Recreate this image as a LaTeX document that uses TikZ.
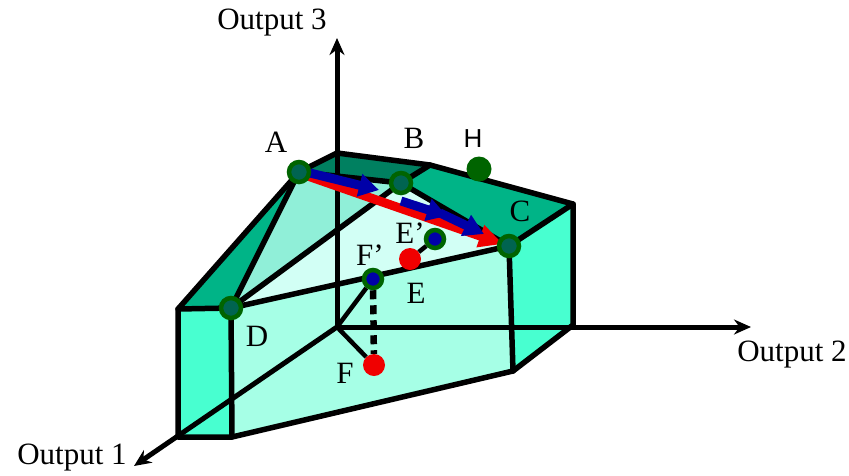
\documentclass[tikz,border=0pt]{standalone}
\usepackage{fontspec}
\setmainfont{Liberation Serif}
\newfontfamily\hsans{Liberation Sans}
\usetikzlibrary{arrows.meta}
\definecolor{sideC}{HTML}{48FFD0}
\definecolor{frontC}{HTML}{A6FFE6}
\definecolor{topC}{HTML}{00B487}
\definecolor{backC}{HTML}{008060}
\definecolor{midC}{HTML}{90EFD8}
\definecolor{paleC}{HTML}{D2FFF5}
\definecolor{dgreen}{HTML}{006400}
\definecolor{vtxC}{HTML}{006450}
\definecolor{bl}{HTML}{0000A8}
\definecolor{rd}{HTML}{F00000}
\tikzset{
  x=1pt,y=-1pt,
  edge/.style={line width=5.5pt,black,line cap=round,line join=round},
  thinedge/.style={line width=4.5pt,black},
  axis/.style={line width=5pt,black,-{Stealth[length=17pt,width=15pt]}},
  lab/.style={font=\fontsize{31}{32}\selectfont,text=black,inner sep=0pt},
  vtx/.style={circle,draw=dgreen,fill=vtxC,line width=4.5pt,minimum size=20pt,inner sep=0pt},
  mid/.style={circle,draw=dgreen,fill=bl,line width=4.5pt,minimum size=18pt,inner sep=0pt},
  redpt/.style={circle,fill=rd,minimum size=22pt,inner sep=0pt},
  hpt/.style={circle,fill=dgreen,minimum size=25pt,inner sep=0pt},
  redarr/.style={rd,line width=9pt,-{Stealth[length=24pt,width=22pt,inset=0pt]}},
  bluearr/.style={bl,line width=9pt,-{Stealth[length=20pt,width=22pt,inset=0pt]}}
}
\begin{document}
\begin{tikzpicture}
\useasboundingbox (0,0) rectangle (849,475);
\coordinate (O) at (337,327);
\coordinate (Z) at (337,38);
\coordinate (Y) at (751,327);
\coordinate (X) at (134,466);
\coordinate (P) at (337,153);
\coordinate (Q) at (430,165);
\coordinate (R) at (573,204);
\coordinate (S) at (573,325);
\coordinate (T) at (513,371);
\coordinate (U) at (232,437);
\coordinate (V) at (178,437);
\coordinate (W) at (178,309);
\coordinate (Aa) at (299,172);
\coordinate (Bb) at (401,183);
\coordinate (Cc) at (509,246);
\coordinate (Dd) at (231,308);
% faces
\fill[sideC] (W) -- (Dd) -- (U) -- (V) -- cycle;
\fill[frontC] (Dd) -- (Cc) -- (T) -- (U) -- cycle;
\fill[sideC] (Cc) -- (R) -- (S) -- (T) -- cycle;
\fill[topC] (W) -- (Aa) -- (Dd) -- cycle;
\fill[backC] (Aa) -- (P) -- (Q) -- (Bb) -- cycle;
\fill[topC] (Bb) -- (Q) -- (R) -- (Cc) -- cycle;
\fill[paleC] (Dd) -- (Bb) -- (Cc) -- cycle;
\fill[midC] (Aa) -- (Bb) -- (Dd) -- cycle;
% axes
\draw[axis] (O) -- (Z);
\draw[axis] (O) -- (Y);
\draw[axis] (O) -- (X);
% edges
\draw[edge] (Aa) -- (P) -- (Q) -- (R) -- (S) -- (T) -- (U) -- (V) -- (W) -- (Aa);
\draw[edge] (W) -- (Dd) -- (U);
\draw[edge] (Dd) -- (Aa) -- (Bb) -- (Dd);
\draw[edge] (Dd) -- (Cc) -- (T);
\draw[edge] (Cc) -- (R);
\draw[edge] (Bb) -- (Cc);
\draw[edge] (Bb) -- (Q);
% nodes
\node[hpt] (h) at (479,169) {};
\node[redpt] (e) at (410,259) {};
\node[mid] (ep) at (435,239) {};
\node[mid] (fp) at (373,279) {};
\node[redpt] (f) at (374,365) {};
\draw[thinedge] (e) -- (ep);
\draw[thinedge] (O) -- (fp);
\draw[thinedge] (O) -- (f);
\draw[line width=6.5pt,dash pattern=on 9pt off 6pt] (fp) -- (f);
% arrows
\draw[redarr] (302,174) -- (503,244);
\draw[bluearr] (310,173) -- (379,190);
\draw[bluearr] (401,201) -- (447,216);
\draw[bluearr] (440,213) -- (484,234);
\node[vtx] (a) at (Aa) {};
\node[vtx] (b) at (Bb) {};
\node[vtx] (c) at (Cc) {};
\node[vtx] (d) at (Dd) {};
% labels
\node[lab] at (272,23) {Output 3};
\node[lab] at (792,355) {Output 2};
\node[lab] at (72,458) {Output 1};
\node[lab] at (276,142) {A};
\node[lab] at (414,138) {B};
\node[lab,font=\hsans\fontsize{26}{28}\selectfont] at (473,139) {H};
\node[lab] at (520,211) {C};
\node[lab] at (410,233) {E'};
\node[lab] at (370,255) {F'};
\node[lab] at (416,293) {E};
\node[lab] at (257,336) {D};
\node[lab] at (345,373) {F};
\end{tikzpicture}
\end{document}
